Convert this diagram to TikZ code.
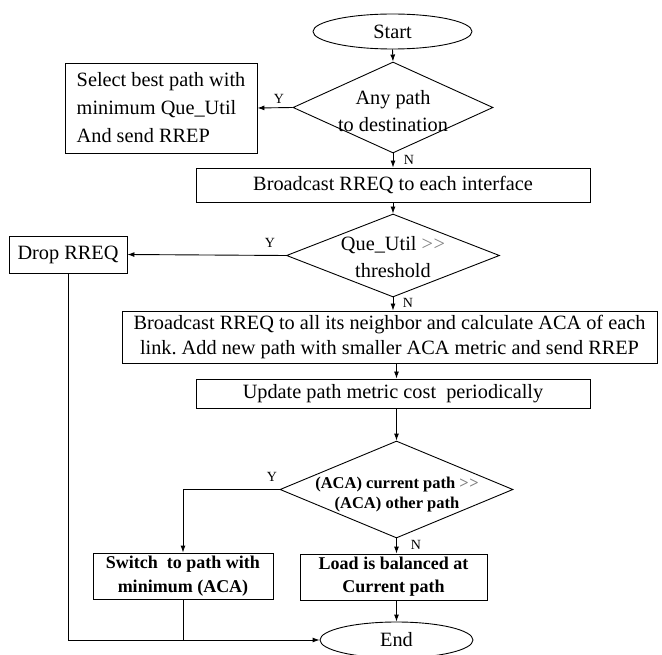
\documentclass[tikz,border=0pt]{standalone}
\usepackage{fontspec}
\setmainfont{Liberation Serif}
\usetikzlibrary{shapes.geometric,arrows.meta}
\tikzset{
  base/.style={draw=black,line width=0.9pt,inner sep=0pt,align=center},
  procbox/.style={base,rectangle,font=\fontsize{20.3}{25}\selectfont},
  boldbox/.style={base,rectangle,font=\fontsize{18}{24}\selectfont\bfseries},
  term/.style={base,ellipse,font=\fontsize{20.3}{24}\selectfont},
  decshape/.style={draw=black,line width=0.9pt,diamond,inner sep=0pt},
  dectext/.style={align=center,inner sep=0pt},
  arr/.style={draw=black,line width=0.9pt,-{Latex[length=7pt,width=5pt]}},
  ln/.style={draw=black,line width=0.9pt},
  yn/.style={font=\fontsize{14}{14}\selectfont,inner sep=0pt}
}
\newcommand{\grgt}{\textcolor{gray}{>\kern0.5pt>}}
\begin{document}
\begin{tikzpicture}[x=1pt,y=-1pt]
\useasboundingbox (0,0) rectangle (662,655);
% terminals
\node[term,minimum width=159pt,minimum height=35pt] (start) at (392.5,31.5) {Start};
\node[term,minimum width=153pt,minimum height=36pt] (end) at (396.5,640) {End};
% decision 1
\node[decshape,minimum width=200pt,minimum height=91pt] (d1) at (393,107.5) {};
\node[dectext,font=\fontsize{20.3}{27}\selectfont] (d1t) at (393,111) {Any path\\to destination};
% select box
\node[procbox,minimum width=192pt,minimum height=90pt,align=left,font=\fontsize{20.3}{28}\selectfont] (sel) at (161,108) {Select best path with\\minimum Que\_Util\\And send RREP};
% broadcast 1
\node[procbox,minimum width=394pt,minimum height=34pt] (bc1) at (393,185) {Broadcast RREQ to each interface};
% decision 2
\node[decshape,minimum width=213pt,minimum height=83pt] (d2) at (393,255.5) {};
\node[dectext,font=\fontsize{20.3}{27}\selectfont] (d2t) at (393,257) {Que\_Util \grgt\\threshold};
% drop
\node[procbox,minimum width=118pt,minimum height=37pt] (drop) at (68,254.5) {Drop RREQ};
% big box
\node[procbox,minimum width=535pt,minimum height=52pt] (big) at (389.5,337) {Broadcast RREQ to all its neighbor and calculate ACA of each\\link.\ Add new path with smaller ACA metric and send RREP};
% update
\node[procbox,minimum width=394pt,minimum height=29pt] (upd) at (393,393.5) {Update path metric cost\ \ periodically};
% decision 3
\node[decshape,minimum width=233pt,minimum height=97pt] (d3) at (396.5,489.5) {};
\node[dectext,font=\fontsize{16.5}{20}\selectfont\bfseries] (d3t) at (397,495) {(ACA) current path \grgt\\(ACA) other path};
% switch and load
\node[boldbox,minimum width=180pt,minimum height=46pt] (sw) at (183,576) {Switch\ \ to path with\\minimum (ACA)};
\node[boldbox,minimum width=187pt,minimum height=46pt,font=\fontsize{18}{23}\selectfont\bfseries] (load) at (393.5,577) {Load is balanced at\\Current path};
% connectors
\draw[arr] (start.south) -- (d1.north);
\draw[arr] (d1.west) -- (sel.east);
\draw[arr] (d1.south) -- (bc1.north);
\draw[arr] (bc1.south) -- (d2.north);
\draw[arr] (d2.west) -- (drop.east);
\draw[arr] (d2.south) -- (big.north -| d2.south);
\draw[arr] (big.south -| d3.north) -- (upd.north -| d3.north);
\draw[arr] (upd.south -| d3.north) -- (d3.north);
\draw[arr] (d3.west) -| (sw.north);
\draw[arr] (d3.south) -- (load.north -| d3.south);
\draw[arr] (load.south -| end.north) -- (end.north);
\draw[arr] (drop.south) |- (end.west);
\draw[ln] (sw.south) -- (sw.south |- end.west);
% labels
\node[yn] (y1) at (279,99) {Y};
\node[yn] (n1) at (409,160) {N};
\node[yn] (y2) at (270,243) {Y};
\node[yn] (n2) at (408,303) {N};
\node[yn] (y3) at (272,477) {Y};
\node[yn] (n3) at (416,545) {N};
\end{tikzpicture}
\end{document}
